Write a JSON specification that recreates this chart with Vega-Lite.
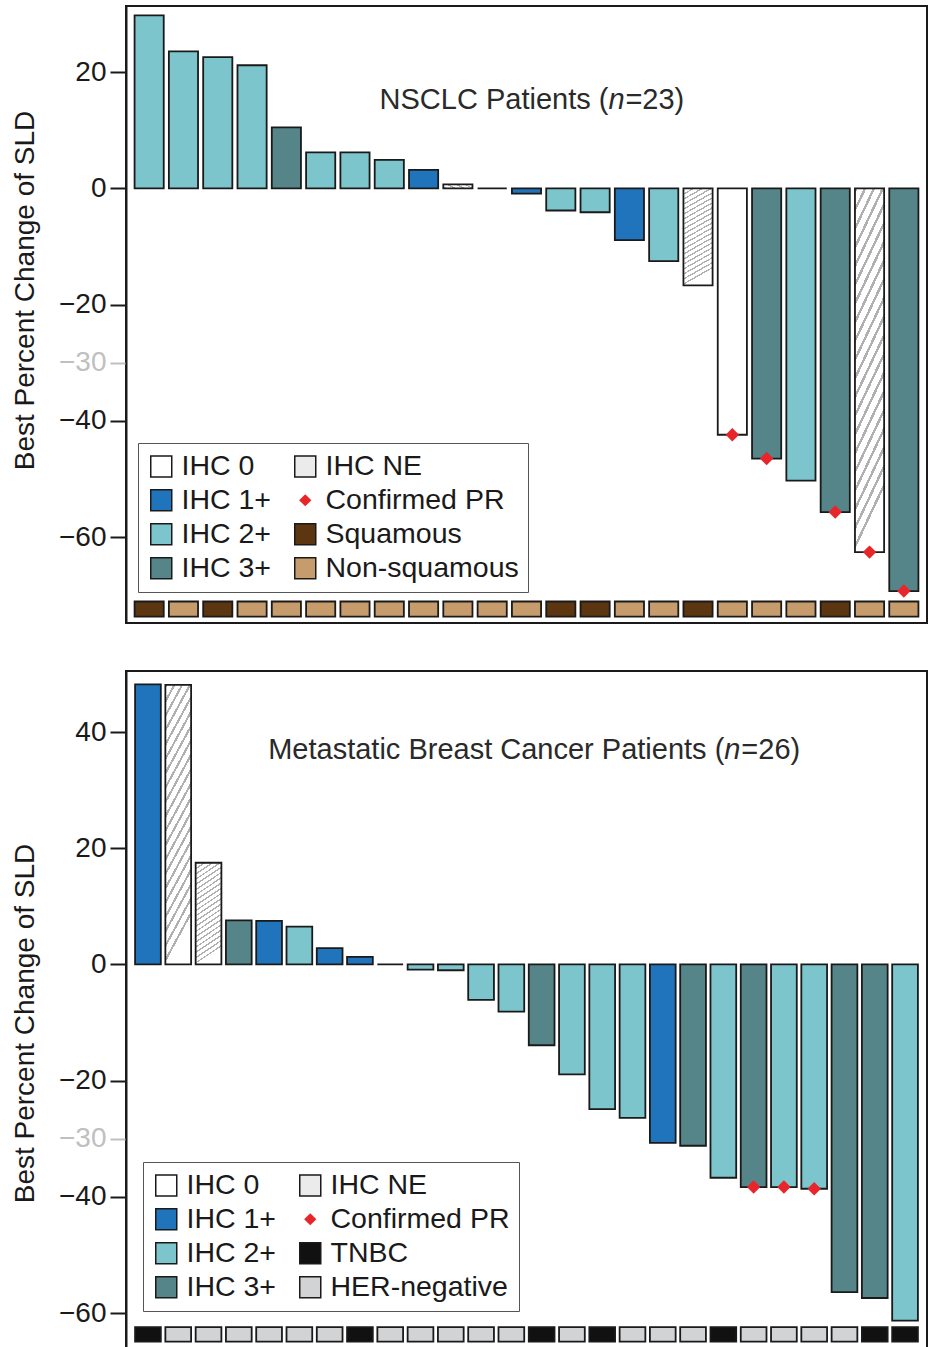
{
  "$schema": "https://vega.github.io/schema/vega-lite/v6.json",
  "padding": {"left": 10, "top": 5, "right": 0, "bottom": 0},
  "background": "white",
  "spacing": 46,
  "config": {
    "font": "Liberation Sans",
    "view": {"stroke": "#1a1a1a", "strokeWidth": 2},
    "axisY": {
      "titleFontSize": 28, "titleFontWeight": "normal", "titleColor": "#1a1a1a", "titlePadding": 19,
      "labelFontSize": 28, "labelPadding": 4,
      "labelColor": {"condition": {"test": "datum.value === -30", "value": "#c0c0c0"}, "value": "#1a1a1a"},
      "tickColor": {"condition": {"test": "datum.value === -30", "value": "#c0c0c0"}, "value": "#1a1a1a"},
      "tickSize": 16, "tickWidth": 2,
      "domainColor": "#1a1a1a", "domainWidth": 2,
      "grid": true, "gridColor": "#cccccc", "gridWidth": 1.2,
      "gridOpacity": {"condition": {"test": "datum.value === 20 || datum.value === -30", "value": 1}, "value": 0}
    },
    "legend": {
      "title": null, "orient": "none", "direction": "vertical", "columns": 2,
      "labelFontSize": 28.5, "labelColor": "#1a1a1a", "labelLimit": 400, "labelOffset": 6,
      "symbolType": "square", "symbolSize": 441, "symbolStrokeWidth": 1.5, "symbolStrokeColor": "#1a1a1a",
      "rowPadding": 5, "columnPadding": 20, "padding": 9,
      "strokeColor": "#555555", "fillColor": "white"
    }
  },
  "datasets": {
    "nsclc": [
      {"pid": "P01", "v": 29.8, "ihc": "IHC 2+", "hist": "Squamous", "pr": null},
      {"pid": "P02", "v": 23.6, "ihc": "IHC 2+", "hist": "Non-squamous", "pr": null},
      {"pid": "P03", "v": 22.6, "ihc": "IHC 2+", "hist": "Squamous", "pr": null},
      {"pid": "P04", "v": 21.2, "ihc": "IHC 2+", "hist": "Non-squamous", "pr": null},
      {"pid": "P05", "v": 10.5, "ihc": "IHC 3+", "hist": "Non-squamous", "pr": null},
      {"pid": "P06", "v": 6.2, "ihc": "IHC 2+", "hist": "Non-squamous", "pr": null},
      {"pid": "P07", "v": 6.2, "ihc": "IHC 2+", "hist": "Non-squamous", "pr": null},
      {"pid": "P08", "v": 4.9, "ihc": "IHC 2+", "hist": "Non-squamous", "pr": null},
      {"pid": "P09", "v": 3.2, "ihc": "IHC 1+", "hist": "Non-squamous", "pr": null},
      {"pid": "P10", "v": 0.7, "ihc": "IHC NE", "hist": "Non-squamous", "pr": null},
      {"pid": "P11", "v": 0, "ihc": "IHC 0", "hist": "Non-squamous", "pr": null},
      {"pid": "P12", "v": -0.9, "ihc": "IHC 1+", "hist": "Non-squamous", "pr": null},
      {"pid": "P13", "v": -3.8, "ihc": "IHC 2+", "hist": "Squamous", "pr": null},
      {"pid": "P14", "v": -4.1, "ihc": "IHC 2+", "hist": "Squamous", "pr": null},
      {"pid": "P15", "v": -8.9, "ihc": "IHC 1+", "hist": "Non-squamous", "pr": null},
      {"pid": "P16", "v": -12.5, "ihc": "IHC 2+", "hist": "Non-squamous", "pr": null},
      {"pid": "P17", "v": -16.7, "ihc": "IHC NE", "hist": "Squamous", "pr": null},
      {"pid": "P18", "v": -42.4, "ihc": "IHC 0", "hist": "Non-squamous", "pr": "Confirmed PR"},
      {"pid": "P19", "v": -46.5, "ihc": "IHC 3+", "hist": "Non-squamous", "pr": "Confirmed PR"},
      {"pid": "P20", "v": -50.3, "ihc": "IHC 2+", "hist": "Non-squamous", "pr": null},
      {"pid": "P21", "v": -55.7, "ihc": "IHC 3+", "hist": "Squamous", "pr": "Confirmed PR"},
      {"pid": "P22", "v": -62.6, "ihc": "IHC NE", "hist": "Non-squamous", "pr": "Confirmed PR"},
      {"pid": "P23", "v": -69.3, "ihc": "IHC 3+", "hist": "Non-squamous", "pr": "Confirmed PR"}
    ],
    "mbc": [
      {"pid": "B01", "v": 48.2, "ihc": "IHC 1+", "hist": "TNBC", "pr": null},
      {"pid": "B02", "v": 48.1, "ihc": "IHC NE", "hist": "HER-negative", "pr": null},
      {"pid": "B03", "v": 17.5, "ihc": "IHC NE", "hist": "HER-negative", "pr": null},
      {"pid": "B04", "v": 7.6, "ihc": "IHC 3+", "hist": "HER-negative", "pr": null},
      {"pid": "B05", "v": 7.5, "ihc": "IHC 1+", "hist": "HER-negative", "pr": null},
      {"pid": "B06", "v": 6.5, "ihc": "IHC 2+", "hist": "HER-negative", "pr": null},
      {"pid": "B07", "v": 2.8, "ihc": "IHC 1+", "hist": "HER-negative", "pr": null},
      {"pid": "B08", "v": 1.3, "ihc": "IHC 1+", "hist": "TNBC", "pr": null},
      {"pid": "B09", "v": 0, "ihc": "IHC 2+", "hist": "HER-negative", "pr": null},
      {"pid": "B10", "v": -0.9, "ihc": "IHC 2+", "hist": "HER-negative", "pr": null},
      {"pid": "B11", "v": -1.0, "ihc": "IHC 2+", "hist": "HER-negative", "pr": null},
      {"pid": "B12", "v": -6.1, "ihc": "IHC 2+", "hist": "HER-negative", "pr": null},
      {"pid": "B13", "v": -8.1, "ihc": "IHC 2+", "hist": "HER-negative", "pr": null},
      {"pid": "B14", "v": -13.9, "ihc": "IHC 3+", "hist": "TNBC", "pr": null},
      {"pid": "B15", "v": -18.9, "ihc": "IHC 2+", "hist": "HER-negative", "pr": null},
      {"pid": "B16", "v": -24.9, "ihc": "IHC 2+", "hist": "TNBC", "pr": null},
      {"pid": "B17", "v": -26.4, "ihc": "IHC 2+", "hist": "HER-negative", "pr": null},
      {"pid": "B18", "v": -30.7, "ihc": "IHC 1+", "hist": "HER-negative", "pr": null},
      {"pid": "B19", "v": -31.2, "ihc": "IHC 3+", "hist": "HER-negative", "pr": null},
      {"pid": "B20", "v": -36.7, "ihc": "IHC 2+", "hist": "TNBC", "pr": null},
      {"pid": "B21", "v": -38.3, "ihc": "IHC 3+", "hist": "HER-negative", "pr": "Confirmed PR"},
      {"pid": "B22", "v": -38.3, "ihc": "IHC 2+", "hist": "HER-negative", "pr": "Confirmed PR"},
      {"pid": "B23", "v": -38.6, "ihc": "IHC 2+", "hist": "HER-negative", "pr": "Confirmed PR"},
      {"pid": "B24", "v": -56.4, "ihc": "IHC 3+", "hist": "HER-negative", "pr": null},
      {"pid": "B25", "v": -57.4, "ihc": "IHC 3+", "hist": "TNBC", "pr": null},
      {"pid": "B26", "v": -61.3, "ihc": "IHC 2+", "hist": "TNBC", "pr": null}
    ]
  },
  "vconcat": [
    {
      "width": 801,
      "height": 617,
      "data": {"name": "nsclc"},
      "layer": [
        {
          "mark": {"type": "bar", "stroke": "#1a1a1a", "strokeWidth": 1.8},
          "encoding": {
            "x": {"field": "pid", "type": "nominal", "sort": null, "axis": null, "scale": {"paddingInner": 0.15, "paddingOuter": 0.25}},
            "y": {"field": "v", "type": "quantitative", "title": "Best Percent Change of SLD",
                  "scale": {"domain": [-74.8, 31.4], "nice": false},
                  "axis": {"values": [20, 0, -20, -30, -40, -60], "titleY": 284}},
            "fill": {"field": "ihc", "type": "nominal",
              "condition": {"test": "datum.ihc === 'IHC NE'", "value": {"gradient": "linear", "x1": 0, "y1": 0, "x2": 0.17, "y2": 1, "stops": [
                {"offset": 0, "color": "#b0b0b0"}, {"offset": 0.015, "color": "#b0b0b0"}, {"offset": 0.015, "color": "#ffffff"}, {"offset": 0.05, "color": "#ffffff"},
                {"offset": 0.05, "color": "#b0b0b0"}, {"offset": 0.065, "color": "#b0b0b0"}, {"offset": 0.065, "color": "#ffffff"}, {"offset": 0.1, "color": "#ffffff"},
                {"offset": 0.1, "color": "#b0b0b0"}, {"offset": 0.115, "color": "#b0b0b0"}, {"offset": 0.115, "color": "#ffffff"}, {"offset": 0.15, "color": "#ffffff"},
                {"offset": 0.15, "color": "#b0b0b0"}, {"offset": 0.165, "color": "#b0b0b0"}, {"offset": 0.165, "color": "#ffffff"}, {"offset": 0.2, "color": "#ffffff"},
                {"offset": 0.2, "color": "#b0b0b0"}, {"offset": 0.215, "color": "#b0b0b0"}, {"offset": 0.215, "color": "#ffffff"}, {"offset": 0.25, "color": "#ffffff"},
                {"offset": 0.25, "color": "#b0b0b0"}, {"offset": 0.265, "color": "#b0b0b0"}, {"offset": 0.265, "color": "#ffffff"}, {"offset": 0.3, "color": "#ffffff"},
                {"offset": 0.3, "color": "#b0b0b0"}, {"offset": 0.315, "color": "#b0b0b0"}, {"offset": 0.315, "color": "#ffffff"}, {"offset": 0.35, "color": "#ffffff"},
                {"offset": 0.35, "color": "#b0b0b0"}, {"offset": 0.365, "color": "#b0b0b0"}, {"offset": 0.365, "color": "#ffffff"}, {"offset": 0.4, "color": "#ffffff"},
                {"offset": 0.4, "color": "#b0b0b0"}, {"offset": 0.415, "color": "#b0b0b0"}, {"offset": 0.415, "color": "#ffffff"}, {"offset": 0.45, "color": "#ffffff"},
                {"offset": 0.45, "color": "#b0b0b0"}, {"offset": 0.465, "color": "#b0b0b0"}, {"offset": 0.465, "color": "#ffffff"}, {"offset": 0.5, "color": "#ffffff"},
                {"offset": 0.5, "color": "#b0b0b0"}, {"offset": 0.515, "color": "#b0b0b0"}, {"offset": 0.515, "color": "#ffffff"}, {"offset": 0.55, "color": "#ffffff"},
                {"offset": 0.55, "color": "#b0b0b0"}, {"offset": 0.565, "color": "#b0b0b0"}, {"offset": 0.565, "color": "#ffffff"}, {"offset": 0.6, "color": "#ffffff"},
                {"offset": 0.6, "color": "#b0b0b0"}, {"offset": 0.615, "color": "#b0b0b0"}, {"offset": 0.615, "color": "#ffffff"}, {"offset": 0.65, "color": "#ffffff"},
                {"offset": 0.65, "color": "#b0b0b0"}, {"offset": 0.665, "color": "#b0b0b0"}, {"offset": 0.665, "color": "#ffffff"}, {"offset": 0.7, "color": "#ffffff"},
                {"offset": 0.7, "color": "#b0b0b0"}, {"offset": 0.715, "color": "#b0b0b0"}, {"offset": 0.715, "color": "#ffffff"}, {"offset": 0.75, "color": "#ffffff"},
                {"offset": 0.75, "color": "#b0b0b0"}, {"offset": 0.765, "color": "#b0b0b0"}, {"offset": 0.765, "color": "#ffffff"}, {"offset": 0.8, "color": "#ffffff"},
                {"offset": 0.8, "color": "#b0b0b0"}, {"offset": 0.815, "color": "#b0b0b0"}, {"offset": 0.815, "color": "#ffffff"}, {"offset": 0.85, "color": "#ffffff"},
                {"offset": 0.85, "color": "#b0b0b0"}, {"offset": 0.865, "color": "#b0b0b0"}, {"offset": 0.865, "color": "#ffffff"}, {"offset": 0.9, "color": "#ffffff"},
                {"offset": 0.9, "color": "#b0b0b0"}, {"offset": 0.915, "color": "#b0b0b0"}, {"offset": 0.915, "color": "#ffffff"}, {"offset": 0.95, "color": "#ffffff"},
                {"offset": 0.95, "color": "#b0b0b0"}, {"offset": 0.965, "color": "#b0b0b0"}, {"offset": 0.965, "color": "#ffffff"}, {"offset": 1, "color": "#ffffff"}
              ]}},
              "scale": {"domain": ["IHC 0", "IHC 1+", "IHC 2+", "IHC 3+", "IHC NE", "Confirmed PR", "Squamous", "Non-squamous"],
                        "range": ["#ffffff", "#1f74bc", "#7cc5cd", "#568589", "#ebebeb", "#e8252a", "#5c3511", "#c69c6d"]},
              "legend": {"legendX": 12, "legendY": 437,
                "encode": {"symbols": {"update": {
                  "shape": {"signal": "datum.value === 'Confirmed PR' ? 'diamond' : 'square'"},
                  "size": {"signal": "datum.value === 'Confirmed PR' ? 150 : 441"},
                  "stroke": {"signal": "datum.value === 'Confirmed PR' ? 'transparent' : '#1a1a1a'"},
                  "strokeWidth": {"value": 1.5},
                  "opacity": {"value": 1},
                  "fill": [
                    {"test": "datum.value === 'IHC NE'", "value": {"gradient": "linear", "x1": 0, "y1": 0, "x2": 1, "y2": 1, "stops": [
                      {"offset": 0, "color": "#ffffff"}, {"offset": 0.12, "color": "#ffffff"}, {"offset": 0.12, "color": "#b0b0b0"}, {"offset": 0.18, "color": "#b0b0b0"}, {"offset": 0.18, "color": "#ffffff"},
                      {"offset": 0.32, "color": "#ffffff"}, {"offset": 0.32, "color": "#b0b0b0"}, {"offset": 0.38, "color": "#b0b0b0"}, {"offset": 0.38, "color": "#ffffff"},
                      {"offset": 0.52, "color": "#ffffff"}, {"offset": 0.52, "color": "#b0b0b0"}, {"offset": 0.58, "color": "#b0b0b0"}, {"offset": 0.58, "color": "#ffffff"},
                      {"offset": 0.72, "color": "#ffffff"}, {"offset": 0.72, "color": "#b0b0b0"}, {"offset": 0.78, "color": "#b0b0b0"}, {"offset": 0.78, "color": "#ffffff"},
                      {"offset": 1, "color": "#ffffff"}
                    ]}},
                    {"signal": "datum.value === 'IHC 0' ? '#ffffff' : datum.value === 'IHC 1+' ? '#1f74bc' : datum.value === 'Confirmed PR' ? '#e8252a' : datum.value === 'IHC 2+' ? '#7cc5cd' : datum.value === 'Squamous' ? '#5c3511' : datum.value === 'IHC 3+' ? '#568589' : '#d4d4d6'"}
                  ]
                }}}}
            }
          }
        },
        {
          "mark": {"type": "bar", "stroke": "#1a1a1a", "strokeWidth": 1.8},
          "encoding": {
            "x": {"field": "pid", "type": "nominal", "sort": null},
            "y": {"datum": -71.1},
            "y2": {"datum": -73.7},
            "fill": {"field": "hist", "type": "nominal"}
          }
        },
        {
          "transform": [{"filter": "datum.pr"}],
          "mark": {"type": "point", "shape": "diamond", "filled": true, "size": 180, "opacity": 1, "strokeWidth": 0},
          "encoding": {
            "x": {"field": "pid", "type": "nominal", "sort": null},
            "y": {"field": "v", "type": "quantitative"},
            "fill": {"field": "pr", "type": "nominal"}
          }
        },
        {
          "data": {"values": [{"t": "NSCLC Patients ("}]},
          "mark": {"type": "text", "align": "right", "baseline": "middle", "fontSize": 29, "color": "#2a2a2a", "dx": -21},
          "encoding": {"x": {"datum": "P15", "type": "nominal"}, "y": {"datum": 15.2}, "text": {"field": "t"}}
        },
        {
          "data": {"values": [{"t": "n"}]},
          "mark": {"type": "text", "align": "left", "baseline": "middle", "fontSize": 29, "fontStyle": "italic", "color": "#2a2a2a", "dx": -21},
          "encoding": {"x": {"datum": "P15", "type": "nominal"}, "y": {"datum": 15.2}, "text": {"field": "t"}}
        },
        {
          "data": {"values": [{"t": "=23)"}]},
          "mark": {"type": "text", "align": "left", "baseline": "middle", "fontSize": 29, "color": "#2a2a2a", "dx": -4},
          "encoding": {"x": {"datum": "P15", "type": "nominal"}, "y": {"datum": 15.2}, "text": {"field": "t"}}
        }
      ]
    },
    {
      "width": 801,
      "height": 677,
      "data": {"name": "mbc"},
      "layer": [
        {
          "mark": {"type": "bar", "stroke": "#1a1a1a", "strokeWidth": 1.8},
          "encoding": {
            "x": {"field": "pid", "type": "nominal", "sort": null, "axis": null, "scale": {"paddingInner": 0.15, "paddingOuter": 0.3}},
            "y": {"field": "v", "type": "quantitative", "title": "Best Percent Change of SLD",
                  "scale": {"domain": [-66, 50.5], "nice": false},
                  "axis": {"values": [40, 20, 0, -20, -30, -40, -60], "titleY": 352}},
            "fill": {"field": "ihc", "type": "nominal",
              "condition": {"test": "datum.ihc === 'IHC NE'", "value": {"gradient": "linear", "x1": 0, "y1": 0, "x2": 0.17, "y2": 1, "stops": [
                {"offset": 0, "color": "#b0b0b0"}, {"offset": 0.015, "color": "#b0b0b0"}, {"offset": 0.015, "color": "#ffffff"}, {"offset": 0.05, "color": "#ffffff"},
                {"offset": 0.05, "color": "#b0b0b0"}, {"offset": 0.065, "color": "#b0b0b0"}, {"offset": 0.065, "color": "#ffffff"}, {"offset": 0.1, "color": "#ffffff"},
                {"offset": 0.1, "color": "#b0b0b0"}, {"offset": 0.115, "color": "#b0b0b0"}, {"offset": 0.115, "color": "#ffffff"}, {"offset": 0.15, "color": "#ffffff"},
                {"offset": 0.15, "color": "#b0b0b0"}, {"offset": 0.165, "color": "#b0b0b0"}, {"offset": 0.165, "color": "#ffffff"}, {"offset": 0.2, "color": "#ffffff"},
                {"offset": 0.2, "color": "#b0b0b0"}, {"offset": 0.215, "color": "#b0b0b0"}, {"offset": 0.215, "color": "#ffffff"}, {"offset": 0.25, "color": "#ffffff"},
                {"offset": 0.25, "color": "#b0b0b0"}, {"offset": 0.265, "color": "#b0b0b0"}, {"offset": 0.265, "color": "#ffffff"}, {"offset": 0.3, "color": "#ffffff"},
                {"offset": 0.3, "color": "#b0b0b0"}, {"offset": 0.315, "color": "#b0b0b0"}, {"offset": 0.315, "color": "#ffffff"}, {"offset": 0.35, "color": "#ffffff"},
                {"offset": 0.35, "color": "#b0b0b0"}, {"offset": 0.365, "color": "#b0b0b0"}, {"offset": 0.365, "color": "#ffffff"}, {"offset": 0.4, "color": "#ffffff"},
                {"offset": 0.4, "color": "#b0b0b0"}, {"offset": 0.415, "color": "#b0b0b0"}, {"offset": 0.415, "color": "#ffffff"}, {"offset": 0.45, "color": "#ffffff"},
                {"offset": 0.45, "color": "#b0b0b0"}, {"offset": 0.465, "color": "#b0b0b0"}, {"offset": 0.465, "color": "#ffffff"}, {"offset": 0.5, "color": "#ffffff"},
                {"offset": 0.5, "color": "#b0b0b0"}, {"offset": 0.515, "color": "#b0b0b0"}, {"offset": 0.515, "color": "#ffffff"}, {"offset": 0.55, "color": "#ffffff"},
                {"offset": 0.55, "color": "#b0b0b0"}, {"offset": 0.565, "color": "#b0b0b0"}, {"offset": 0.565, "color": "#ffffff"}, {"offset": 0.6, "color": "#ffffff"},
                {"offset": 0.6, "color": "#b0b0b0"}, {"offset": 0.615, "color": "#b0b0b0"}, {"offset": 0.615, "color": "#ffffff"}, {"offset": 0.65, "color": "#ffffff"},
                {"offset": 0.65, "color": "#b0b0b0"}, {"offset": 0.665, "color": "#b0b0b0"}, {"offset": 0.665, "color": "#ffffff"}, {"offset": 0.7, "color": "#ffffff"},
                {"offset": 0.7, "color": "#b0b0b0"}, {"offset": 0.715, "color": "#b0b0b0"}, {"offset": 0.715, "color": "#ffffff"}, {"offset": 0.75, "color": "#ffffff"},
                {"offset": 0.75, "color": "#b0b0b0"}, {"offset": 0.765, "color": "#b0b0b0"}, {"offset": 0.765, "color": "#ffffff"}, {"offset": 0.8, "color": "#ffffff"},
                {"offset": 0.8, "color": "#b0b0b0"}, {"offset": 0.815, "color": "#b0b0b0"}, {"offset": 0.815, "color": "#ffffff"}, {"offset": 0.85, "color": "#ffffff"},
                {"offset": 0.85, "color": "#b0b0b0"}, {"offset": 0.865, "color": "#b0b0b0"}, {"offset": 0.865, "color": "#ffffff"}, {"offset": 0.9, "color": "#ffffff"},
                {"offset": 0.9, "color": "#b0b0b0"}, {"offset": 0.915, "color": "#b0b0b0"}, {"offset": 0.915, "color": "#ffffff"}, {"offset": 0.95, "color": "#ffffff"},
                {"offset": 0.95, "color": "#b0b0b0"}, {"offset": 0.965, "color": "#b0b0b0"}, {"offset": 0.965, "color": "#ffffff"}, {"offset": 1, "color": "#ffffff"}
              ]}},
              "scale": {"domain": ["IHC 0", "IHC 1+", "IHC 2+", "IHC 3+", "IHC NE", "Confirmed PR", "TNBC", "HER-negative"],
                        "range": ["#ffffff", "#1f74bc", "#7cc5cd", "#568589", "#ebebeb", "#e8252a", "#111111", "#d2d3d5"]},
              "legend": {"legendX": 17, "legendY": 491,
                "encode": {"symbols": {"update": {
                  "shape": {"signal": "datum.value === 'Confirmed PR' ? 'diamond' : 'square'"},
                  "size": {"signal": "datum.value === 'Confirmed PR' ? 150 : 441"},
                  "stroke": {"signal": "datum.value === 'Confirmed PR' ? 'transparent' : '#1a1a1a'"},
                  "strokeWidth": {"value": 1.5},
                  "opacity": {"value": 1},
                  "fill": [
                    {"test": "datum.value === 'IHC NE'", "value": {"gradient": "linear", "x1": 0, "y1": 0, "x2": 1, "y2": 1, "stops": [
                      {"offset": 0, "color": "#ffffff"}, {"offset": 0.12, "color": "#ffffff"}, {"offset": 0.12, "color": "#b0b0b0"}, {"offset": 0.18, "color": "#b0b0b0"}, {"offset": 0.18, "color": "#ffffff"},
                      {"offset": 0.32, "color": "#ffffff"}, {"offset": 0.32, "color": "#b0b0b0"}, {"offset": 0.38, "color": "#b0b0b0"}, {"offset": 0.38, "color": "#ffffff"},
                      {"offset": 0.52, "color": "#ffffff"}, {"offset": 0.52, "color": "#b0b0b0"}, {"offset": 0.58, "color": "#b0b0b0"}, {"offset": 0.58, "color": "#ffffff"},
                      {"offset": 0.72, "color": "#ffffff"}, {"offset": 0.72, "color": "#b0b0b0"}, {"offset": 0.78, "color": "#b0b0b0"}, {"offset": 0.78, "color": "#ffffff"},
                      {"offset": 1, "color": "#ffffff"}
                    ]}},
                    {"signal": "datum.value === 'IHC 0' ? '#ffffff' : datum.value === 'IHC 1+' ? '#1f74bc' : datum.value === 'Confirmed PR' ? '#e8252a' : datum.value === 'IHC 2+' ? '#7cc5cd' : datum.value === 'TNBC' ? '#1a1a1a' : datum.value === 'IHC 3+' ? '#568589' : '#d2d3d5'"}
                  ]
                }}}}
            }
          }
        },
        {
          "mark": {"type": "bar", "stroke": "#1a1a1a", "strokeWidth": 1.8},
          "encoding": {
            "x": {"field": "pid", "type": "nominal", "sort": null},
            "y": {"datum": -62.4},
            "y2": {"datum": -64.9},
            "fill": {"field": "hist", "type": "nominal"}
          }
        },
        {
          "transform": [{"filter": "datum.pr"}],
          "mark": {"type": "point", "shape": "diamond", "filled": true, "size": 180, "opacity": 1, "strokeWidth": 0},
          "encoding": {
            "x": {"field": "pid", "type": "nominal", "sort": null},
            "y": {"field": "v", "type": "quantitative"},
            "fill": {"field": "pr", "type": "nominal"}
          }
        },
        {
          "data": {"values": [{"t": "Metastatic Breast Cancer Patients ("}]},
          "mark": {"type": "text", "align": "right", "baseline": "middle", "fontSize": 29, "color": "#2a2a2a", "dx": 1},
          "encoding": {"x": {"datum": "B20", "type": "nominal"}, "y": {"datum": 36.9}, "text": {"field": "t"}}
        },
        {
          "data": {"values": [{"t": "n"}]},
          "mark": {"type": "text", "align": "left", "baseline": "middle", "fontSize": 29, "fontStyle": "italic", "color": "#2a2a2a", "dx": 1},
          "encoding": {"x": {"datum": "B20", "type": "nominal"}, "y": {"datum": 36.9}, "text": {"field": "t"}}
        },
        {
          "data": {"values": [{"t": "=26)"}]},
          "mark": {"type": "text", "align": "left", "baseline": "middle", "fontSize": 29, "color": "#2a2a2a", "dx": 18},
          "encoding": {"x": {"datum": "B20", "type": "nominal"}, "y": {"datum": 36.9}, "text": {"field": "t"}}
        }
      ]
    }
  ],
  "resolve": {"scale": {"x": "independent", "y": "independent", "fill": "independent"}, "legend": {"fill": "independent"}}
}
